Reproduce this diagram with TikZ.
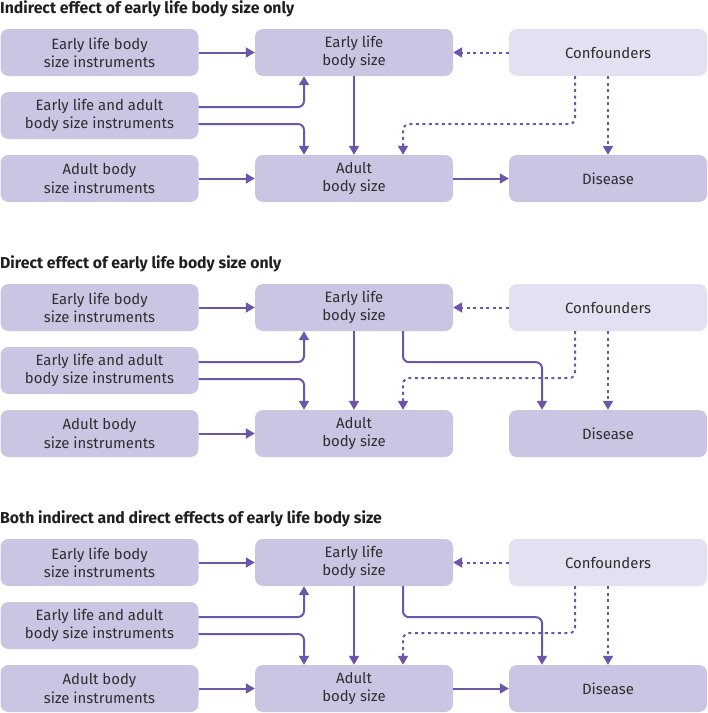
\documentclass[tikz,border=0pt]{standalone}
\usepackage{fontspec}
\setmainfont{Fira Sans}
\usetikzlibrary{arrows.meta,calc}
\definecolor{boxfill}{HTML}{CBC5E4}
\definecolor{lightfill}{HTML}{E3E0F1}
\definecolor{arrowc}{HTML}{6A56AB}
\definecolor{txt}{HTML}{2E2E2E}
\begin{document}
\begin{tikzpicture}[x=1pt,y=-1pt,
  box/.style={fill=boxfill,rounded corners=8pt,minimum width=198pt,minimum height=47pt,inner sep=0pt,align=center,text=txt,font=\fontsize{14.9}{18.3}\selectfont},
  lbox/.style={box,fill=lightfill},
  ttl/.style={anchor=base west,inner sep=0pt,text=black!88,font=\bfseries\fontsize{15.8}{17}\selectfont},
  arr/.style={draw=arrowc,line width=2pt,-{Triangle[length=9pt,width=10pt]},rounded corners=6pt},
  dotarr/.style={arr,dash pattern=on 3pt off 3.5pt}]
\useasboundingbox (0,0) rectangle (708,713);

% ---------- Panel 1 ----------
\node[ttl] (T1) at (0,13.5) {Indirect effect of early life body size only};
\node[box] (aL1) at (99.5,52.5) {Early life body\\size instruments};
\node[box] (aL2) at (99.5,115.5) {Early life and adult\\body size instruments};
\node[box] (aL3) at (99.5,178.5) {Adult body\\size instruments};
\node[box] (aM1) at (354,52.5) {Early life\\body size};
\node[box] (aM3) at (354,178.5) {Adult\\body size};
\node[lbox] (aC) at (608,52.5) {Confounders};
\node[box] (aD) at (608,178.5) {Disease};
\draw[arr] (aL1.east) -- (aM1.west);
\draw[arr] ([yshift=8.5pt]aL2.east) -| ([xshift=-50pt]aM1.south);
\draw[arr] ([yshift=-8.5pt]aL2.east) -| ([xshift=-50pt]aM3.north);
\draw[arr] (aM1.south) -- (aM3.north);
\draw[arr] (aL3.east) -- (aM3.west);
\draw[arr] (aM3.east) -- (aD.west);
\draw[dotarr] (aC.west) -- (aM1.east);
\draw[dotarr] ([xshift=-33pt]aC.south) -- ++(0,48) -| ([xshift=49pt]aM3.north);
\draw[dotarr] (aC.south) -- (aD.north);

% ---------- Panel 2 ----------
\node[ttl] (T2) at (0,268.5) {Direct effect of early life body size only};
\node[box] (bL1) at (99.5,307.5) {Early life body\\size instruments};
\node[box] (bL2) at (99.5,370.5) {Early life and adult\\body size instruments};
\node[box] (bL3) at (99.5,433.5) {Adult body\\size instruments};
\node[box] (bM1) at (354,307.5) {Early life\\body size};
\node[box] (bM3) at (354,433.5) {Adult\\body size};
\node[lbox] (bC) at (608,307.5) {Confounders};
\node[box] (bD) at (608,433.5) {Disease};
\draw[arr] (bL1.east) -- (bM1.west);
\draw[arr] ([yshift=8.5pt]bL2.east) -| ([xshift=-50pt]bM1.south);
\draw[arr] ([yshift=-8.5pt]bL2.east) -| ([xshift=-50pt]bM3.north);
\draw[arr] (bM1.south) -- (bM3.north);
\draw[arr] (bL3.east) -- (bM3.west);
\draw[arr] ([xshift=49pt]bM1.south) -- ++(0,31) -| ([xshift=-66pt]bD.north);
\draw[dotarr] (bC.west) -- (bM1.east);
\draw[dotarr] ([xshift=-33pt]bC.south) -- ++(0,47) -| ([xshift=49pt]bM3.north);
\draw[dotarr] (bC.south) -- (bD.north);

% ---------- Panel 3 ----------
\node[ttl] (T3) at (0,523.5) {Both indirect and direct effects of early life body size};
\node[box] (cL1) at (99.5,562.5) {Early life body\\size instruments};
\node[box] (cL2) at (99.5,625.5) {Early life and adult\\body size instruments};
\node[box] (cL3) at (99.5,688.5) {Adult body\\size instruments};
\node[box] (cM1) at (354,562.5) {Early life\\body size};
\node[box] (cM3) at (354,688.5) {Adult\\body size};
\node[lbox] (cC) at (608,562.5) {Confounders};
\node[box] (cD) at (608,688.5) {Disease};
\draw[arr] (cL1.east) -- (cM1.west);
\draw[arr] ([yshift=8.5pt]cL2.east) -| ([xshift=-50pt]cM1.south);
\draw[arr] ([yshift=-8.5pt]cL2.east) -| ([xshift=-50pt]cM3.north);
\draw[arr] (cM1.south) -- (cM3.north);
\draw[arr] (cL3.east) -- (cM3.west);
\draw[arr] (cM3.east) -- (cD.west);
\draw[arr] ([xshift=49pt]cM1.south) -- ++(0,31) -| ([xshift=-66pt]cD.north);
\draw[dotarr] (cC.west) -- (cM1.east);
\draw[dotarr] ([xshift=-33pt]cC.south) -- ++(0,47) -| ([xshift=49pt]cM3.north);
\draw[dotarr] (cC.south) -- (cD.north);
\end{tikzpicture}
\end{document}
